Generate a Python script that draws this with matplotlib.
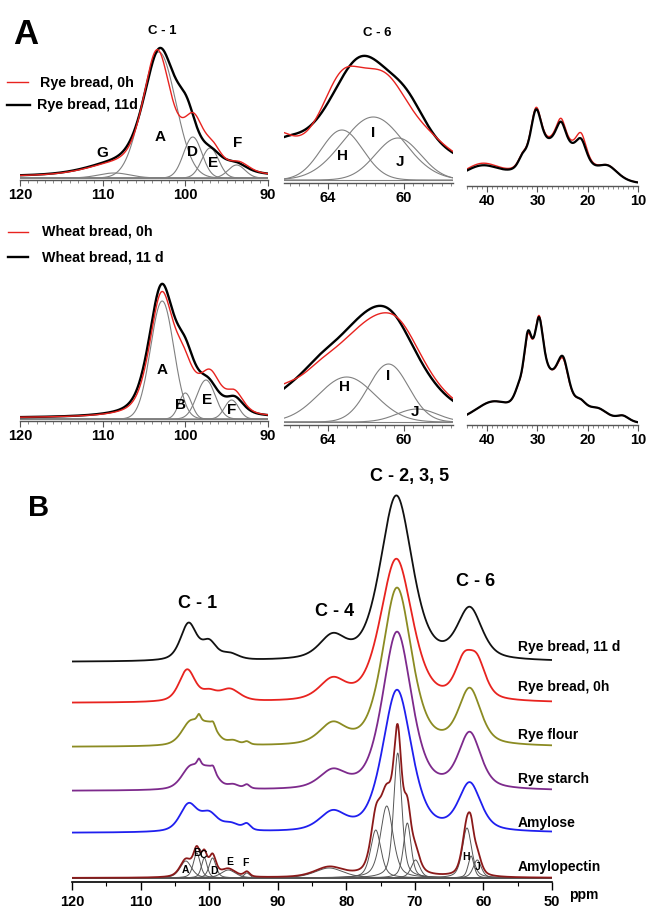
import numpy as np
import matplotlib
matplotlib.use('Agg')
import matplotlib.pyplot as plt
from matplotlib.ticker import MultipleLocator, FixedLocator
from matplotlib.lines import Line2D

W, H = 649, 909
plt.rcParams['font.family'] = ['Liberation Sans', 'DejaVu Sans']
plt.rcParams['font.weight'] = 'bold'

# ---------------- data: peak tables (centre ppm, height, FWHM ppm) ----------------
# Panel A, rye bread, C-1 region
rye_c1_0h = [(109, 8, 8), (103.4, 122, 4.0), (99.0, 48, 3.0), (96.6, 18, 2.5), (93.5, 10, 3.0)]
rye_c1_11d = [(109, 8, 8), (103.1, 122, 4.6), (99.8, 42, 3.0), (96.8, 15, 3.0), (93.8, 8, 3.0)]
rye_c1_comp = {'A': (103.2, 126, 4.8), 'D': (99.1, 41, 2.6), 'E': (97.0, 30, 2.4), 'F': (93.8, 13, 2.4), 'G': (108.6, 5, 4.5)}
# Panel A, rye bread, C-6 region
rye_c6_0h = [(66.8, 40, 2.5), (63.3, 80, 3.0), (60.9, 88, 3.6), (58.5, 12, 2.5), (57.0, 10, 3.0)]
rye_c6_11d = [(66.5, 28, 3.0), (62.3, 115, 4.2), (59.8, 45, 3.0), (57.0, 10, 3.0)]
rye_c6_comp = {'H': (63.25, 50, 2.6), 'I': (61.6, 63, 3.8), 'J': (60.3, 42, 2.8)}
# Panel A, rye bread, 10-44 ppm region
rye_al_0h = [(41, 20, 10), (33.0, 10, 2.0), (30.3, 50, 2.6), (26, 42, 10), (25.3, 22, 2.2), (21.3, 27, 2.6), (16, 14, 5)]
rye_al_11d = [(41, 18, 10), (33.0, 10, 2.0), (30.3, 49, 2.6), (26, 41, 10), (25.3, 20, 2.2), (21.3, 22, 2.6), (16, 14, 5)]
# Panel A, wheat bread, C-1
wheat_c1_0h = [(102.9, 118, 3.4), (100.2, 40, 3.0), (97.0, 38, 3.0), (94.0, 20, 2.5)]
wheat_c1_11d = [(102.9, 126, 3.6), (100.0, 48, 3.0), (97.2, 26, 3.0), (94.0, 15, 2.5)]
wheat_c1_comp = {'A': (102.8, 118, 3.3), 'B': (100.0, 26, 1.8), 'E': (97.5, 39, 2.6), 'F': (94.4, 19, 2.0)}
# Panel A, wheat bread, C-6
wheat_c6_0h = [(66.6, 18, 2.5), (64.5, 12, 2.5), (61.8, 88, 5.6), (60.2, 36, 3.0)]
wheat_c6_11d = [(66.3, 10, 3.0), (64.5, 12, 2.5), (62.0, 88, 5.6), (60.6, 40, 3.2)]
wheat_c6_comp = {'H': (63.0, 45, 3.5), 'I': (60.8, 58, 2.5), 'J': (59.3, 13, 2.5)}
# Panel A, wheat bread, 10-44 ppm
wheat_al_0h = [(39, 20, 9), (33.8, 12, 2.0), (31.9, 57, 2.0), (29.7, 62, 2.0), (28.3, 42, 7), (24.9, 40, 2.8), (21.5, 12, 3), (18, 12, 5), (13, 6, 3)]
wheat_al_11d = [(39, 20, 9), (33.8, 12, 2.0), (31.9, 60, 2.0), (29.7, 60, 2.0), (28.3, 42, 7), (24.9, 42, 2.8), (21.5, 12, 3), (18, 12, 5), (13, 6, 3)]

# Panel B spectra (offset, peaks)
b_names = ['Rye bread, 11 d', 'Rye bread, 0h', 'Rye flour', 'Rye starch', 'Amylose', 'Amylopectin']
b_colors = ['#111111', '#e8231f', '#8b8b22', '#7d2a8c', '#1f1fef', '#8b1a1a']
b_offsets = [220, 179, 135, 91, 49, 4]
b_rye11d = [(103.0, 37, 2.8), (100.0, 17, 2.5), (97.0, 6, 3.0), (82.0, 22, 4.5), (72.7, 165, 5.5), (62.0, 50, 4.2)]
b_rye0h = [(103.2, 32, 2.8), (100.0, 8, 2.5), (97.0, 12, 3.5), (82.0, 20, 4.5), (72.7, 143, 5.5), (62.9, 34, 3.0), (60.9, 34, 3.0)]
b_flour = [(102.8, 22, 3.0), (101.3, 8, 2.0), (99.8, 18, 2.5), (101.5, 6, 0.6), (99.4, 4, 0.6), (96.5, 4, 2.0), (94.5, 3, 1.0),
           (82.0, 20, 4.5), (72.6, 158, 5.0), (62.0, 55, 3.8)]
b_starch = [(102.8, 21, 3.0), (101.3, 8, 2.0), (99.8, 18, 2.5), (101.5, 6, 0.6), (99.4, 4, 0.6), (96.5, 4, 2.0), (94.5, 4, 1.0),
            (82.0, 17, 4.5), (72.6, 158, 5.0), (62.0, 55, 3.8)]
b_amylose = [(103.0, 27, 3.0), (100.0, 17, 3.0), (96.8, 7, 3.0), (94.5, 6, 1.3), (82.0, 18, 4.5), (72.6, 142, 5.0), (62.0, 47, 3.8)]
b_amylopectin = [(103.4, 17, 2.0), (101.8, 25, 1.2), (100.7, 20, 1.0), (99.5, 20, 1.2), (97.2, 8, 2.5), (94.5, 5, 1.0),
                 (82.5, 10, 5.0), (75.7, 48, 1.8), (74.1, 72, 2.2), (72.5, 125, 1.4), (71.1, 55, 1.3), (69.9, 18, 1.5),
                 (62.4, 50, 1.6), (61.8, 22, 1.0), (60.9, 18, 1.4)]
b_amylo_labels = [('A', 103.4, 12), ('B', 101.8, 29), ('C', 100.8, 27), ('D', 99.3, 11), ('E', 97.0, 20), ('F', 94.7, 19), ('H', 62.6, 25), ('J', 60.8, 15)]
b_peak_labels = [('C - 1', 101.7, 279), ('C - 4', 81.7, 270), ('C - 2, 3, 5', 70.8, 405), ('C - 6', 61.2, 300)]
b_label_y = [235, 195, 147, 103, 59, 15]


def pv(x, peaks, eta=0.5, base=0.0):
    y = np.full_like(x, base, dtype=float)
    for c, h, w in peaks:
        d = (x - c) / w
        y += h * (eta / (1 + 4 * d ** 2) + (1 - eta) * np.exp(-4 * np.log(2) * d ** 2))
    return y


def gauss(x, c, h, w):
    return h * np.exp(-4 * np.log(2) * ((x - c) / w) ** 2)


fig = plt.figure(figsize=(W / 100, H / 100), dpi=100)


def ax_px(x0, x1, yaxis, ytop, xl):
    ax = fig.add_axes([x0 / W, 1 - yaxis / H, (x1 - x0) / W, (yaxis - ytop) / H])
    ax.set_xlim(*xl)
    ax.set_ylim(0, yaxis - ytop)
    for s in ['top', 'left', 'right']:
        ax.spines[s].set_visible(False)
    ax.spines['bottom'].set_linewidth(1.0)
    ax.spines['bottom'].set_color('#555555')
    ax.set_yticks([])
    ax.patch.set_alpha(0)
    ax.tick_params(axis='x', which='major', direction='out', length=4, width=0.8, labelsize=10.5, pad=2, color='#555555')
    ax.tick_params(axis='x', which='minor', direction='out', length=2, width=0.6, color='#777777')
    return ax


def ftext(x, y, s, size, **kw):
    fig.text(x / W, 1 - y / H, s, fontsize=size, fontweight='bold', **kw)


def fline(x0, x1, y, color, lw):
    fig.add_artist(Line2D([x0 / W, x1 / W], [1 - y / H, 1 - y / H], color=color, lw=lw, transform=fig.transFigure))


gray = '#808080'

# ---------- Panel A ----------
for row, (axy, c1, c6, al) in enumerate([
        ((180, 183, 186), (rye_c1_0h, rye_c1_11d, rye_c1_comp), (rye_c6_0h, rye_c6_11d, rye_c6_comp), (rye_al_0h, rye_al_11d)),
        ((421, 425, 425), (wheat_c1_0h, wheat_c1_11d, wheat_c1_comp), (wheat_c6_0h, wheat_c6_11d, wheat_c6_comp), (wheat_al_0h, wheat_al_11d))]):
    top = 25 if row == 0 else 255
    ax = ax_px(20, 268, axy[0], top, (120, 90))
    ax.xaxis.set_major_locator(FixedLocator([120, 110, 100, 90]))
    ax.xaxis.set_minor_locator(MultipleLocator(1))
    x = np.linspace(120, 90, 700)
    for k, (c, h, w) in c1[2].items():
        ax.plot(x, 2 + gauss(x, c, h, w), color=gray, lw=0.8)
    ax.plot(x, np.full_like(x, 2), color=gray, lw=0.8)
    ax.plot(x, pv(x, c1[1], base=3), color='black', lw=1.7)
    ax.plot(x, pv(x, c1[0], base=3), color='#e8231f', lw=1.0)

    ax2 = ax_px(284, 453, axy[1], top, (66.3, 57.4))
    ax2.xaxis.set_major_locator(FixedLocator([64, 60]))
    ax2.xaxis.set_minor_locator(MultipleLocator(0.5))
    x = np.linspace(66.3, 57.4, 500)
    for k, (c, h, w) in c6[2].items():
        ax2.plot(x, 3 + gauss(x, c, h, w), color=gray, lw=0.8)
    ax2.plot(x, np.full_like(x, 3), color=gray, lw=0.8)
    ax2.plot(x, pv(x, c6[1]), color='black', lw=1.7)
    ax2.plot(x, pv(x, c6[0]), color='#e8231f', lw=1.0)

    ax3 = ax_px(467, 638, axy[2], top, (44, 10))
    ax3.xaxis.set_major_locator(FixedLocator([40, 30, 20, 10]))
    ax3.xaxis.set_minor_locator(MultipleLocator(1))
    x = np.linspace(44, 10, 600)
    ax3.plot(x, pv(x, al[0]), color='#e8231f', lw=1.0)
    ax3.plot(x, pv(x, al[1]), color='black', lw=1.6)

    if row == 0:
        for s, px, py in [('G', 110.0, 27), ('A', 103.1, 43), ('D', 99.1, 28), ('E', 96.7, 17), ('F', 93.7, 37)]:
            ax.text(px, py, s, fontsize=11, ha='center', va='center')
        ax.text(102.8, 149, 'C - 1', fontsize=9.5, ha='center', va='center', clip_on=False)
        for s, px, py in [('H', 63.2, 27), ('I', 61.6, 50), ('J', 60.2, 21)]:
            ax2.text(px, py, s, fontsize=11, ha='center', va='center')
        ax2.text(61.4, 150, 'C - 6', fontsize=9.5, ha='center', va='center', clip_on=False)
    else:
        for s, px, py in [('A', 102.8, 51), ('B', 100.6, 16), ('E', 97.4, 21), ('F', 94.4, 11)]:
            ax.text(px, py, s, fontsize=11, ha='center', va='center')
        for s, px, py in [('H', 63.1, 38), ('I', 60.8, 49), ('J', 59.4, 13)]:
            ax2.text(px, py, s, fontsize=11, ha='center', va='center')

ftext(13, 44, 'A', 25)
fline(7, 28, 82, '#e8231f', 1.0)
ftext(40, 83, 'Rye bread, 0h', 10.3, va='center')
fline(7, 30, 105, 'black', 1.7)
ftext(37, 105, 'Rye bread, 11d', 10.3, va='center')
fline(8, 28, 232, '#e8231f', 1.0)
ftext(42, 232, 'Wheat bread, 0h', 10.3, va='center')
fline(8, 28, 257, 'black', 1.7)
ftext(42, 257, 'Wheat bread, 11 d', 10.3, va='center')

# ---------- Panel B ----------
axb = ax_px(72, 552, 882, 440, (120, 50))
axb.spines['bottom'].set_color('black')
axb.spines['bottom'].set_linewidth(1.2)
axb.xaxis.set_major_locator(MultipleLocator(10))
axb.xaxis.set_minor_locator(MultipleLocator(5))
axb.tick_params(axis='x', which='major', length=6, width=1.0, color='black', labelsize=10.5, pad=3)
axb.tick_params(axis='x', which='minor', length=3, width=0.8, color='black')
x = np.linspace(120, 50, 1400)
spectra = [b_rye11d, b_rye0h, b_flour, b_starch, b_amylose]
for pk, off, col in zip(spectra, b_offsets[:5], b_colors[:5]):
    axb.plot(x, pv(x, pk, base=off), color=col, lw=1.3)
off = b_offsets[5]
axb.plot(x, np.full_like(x, off), color='#444444', lw=1.0)
for c, h, w in b_amylopectin:
    axb.plot(x, pv(x, [(c, h, w)], base=off), color='#555555', lw=0.7)
axb.plot(x, pv(x, b_amylopectin, base=off), color=b_colors[5], lw=1.3)
for s, px, py in b_amylo_labels:
    axb.text(px, py, s, fontsize=7.5, ha='center', va='center')
for s, px, py in b_peak_labels:
    axb.text(px, py, s, fontsize=13, ha='center', va='center', clip_on=False)
for s, py in zip(b_names, b_label_y):
    axb.text(55, py, s, fontsize=10, ha='left', va='center', clip_on=False)
axb.text(47.5, -13, 'ppm', fontsize=10, ha='left', va='center', clip_on=False)
ftext(28, 516, 'B', 21)

fig.savefig('out.png', dpi=100)
